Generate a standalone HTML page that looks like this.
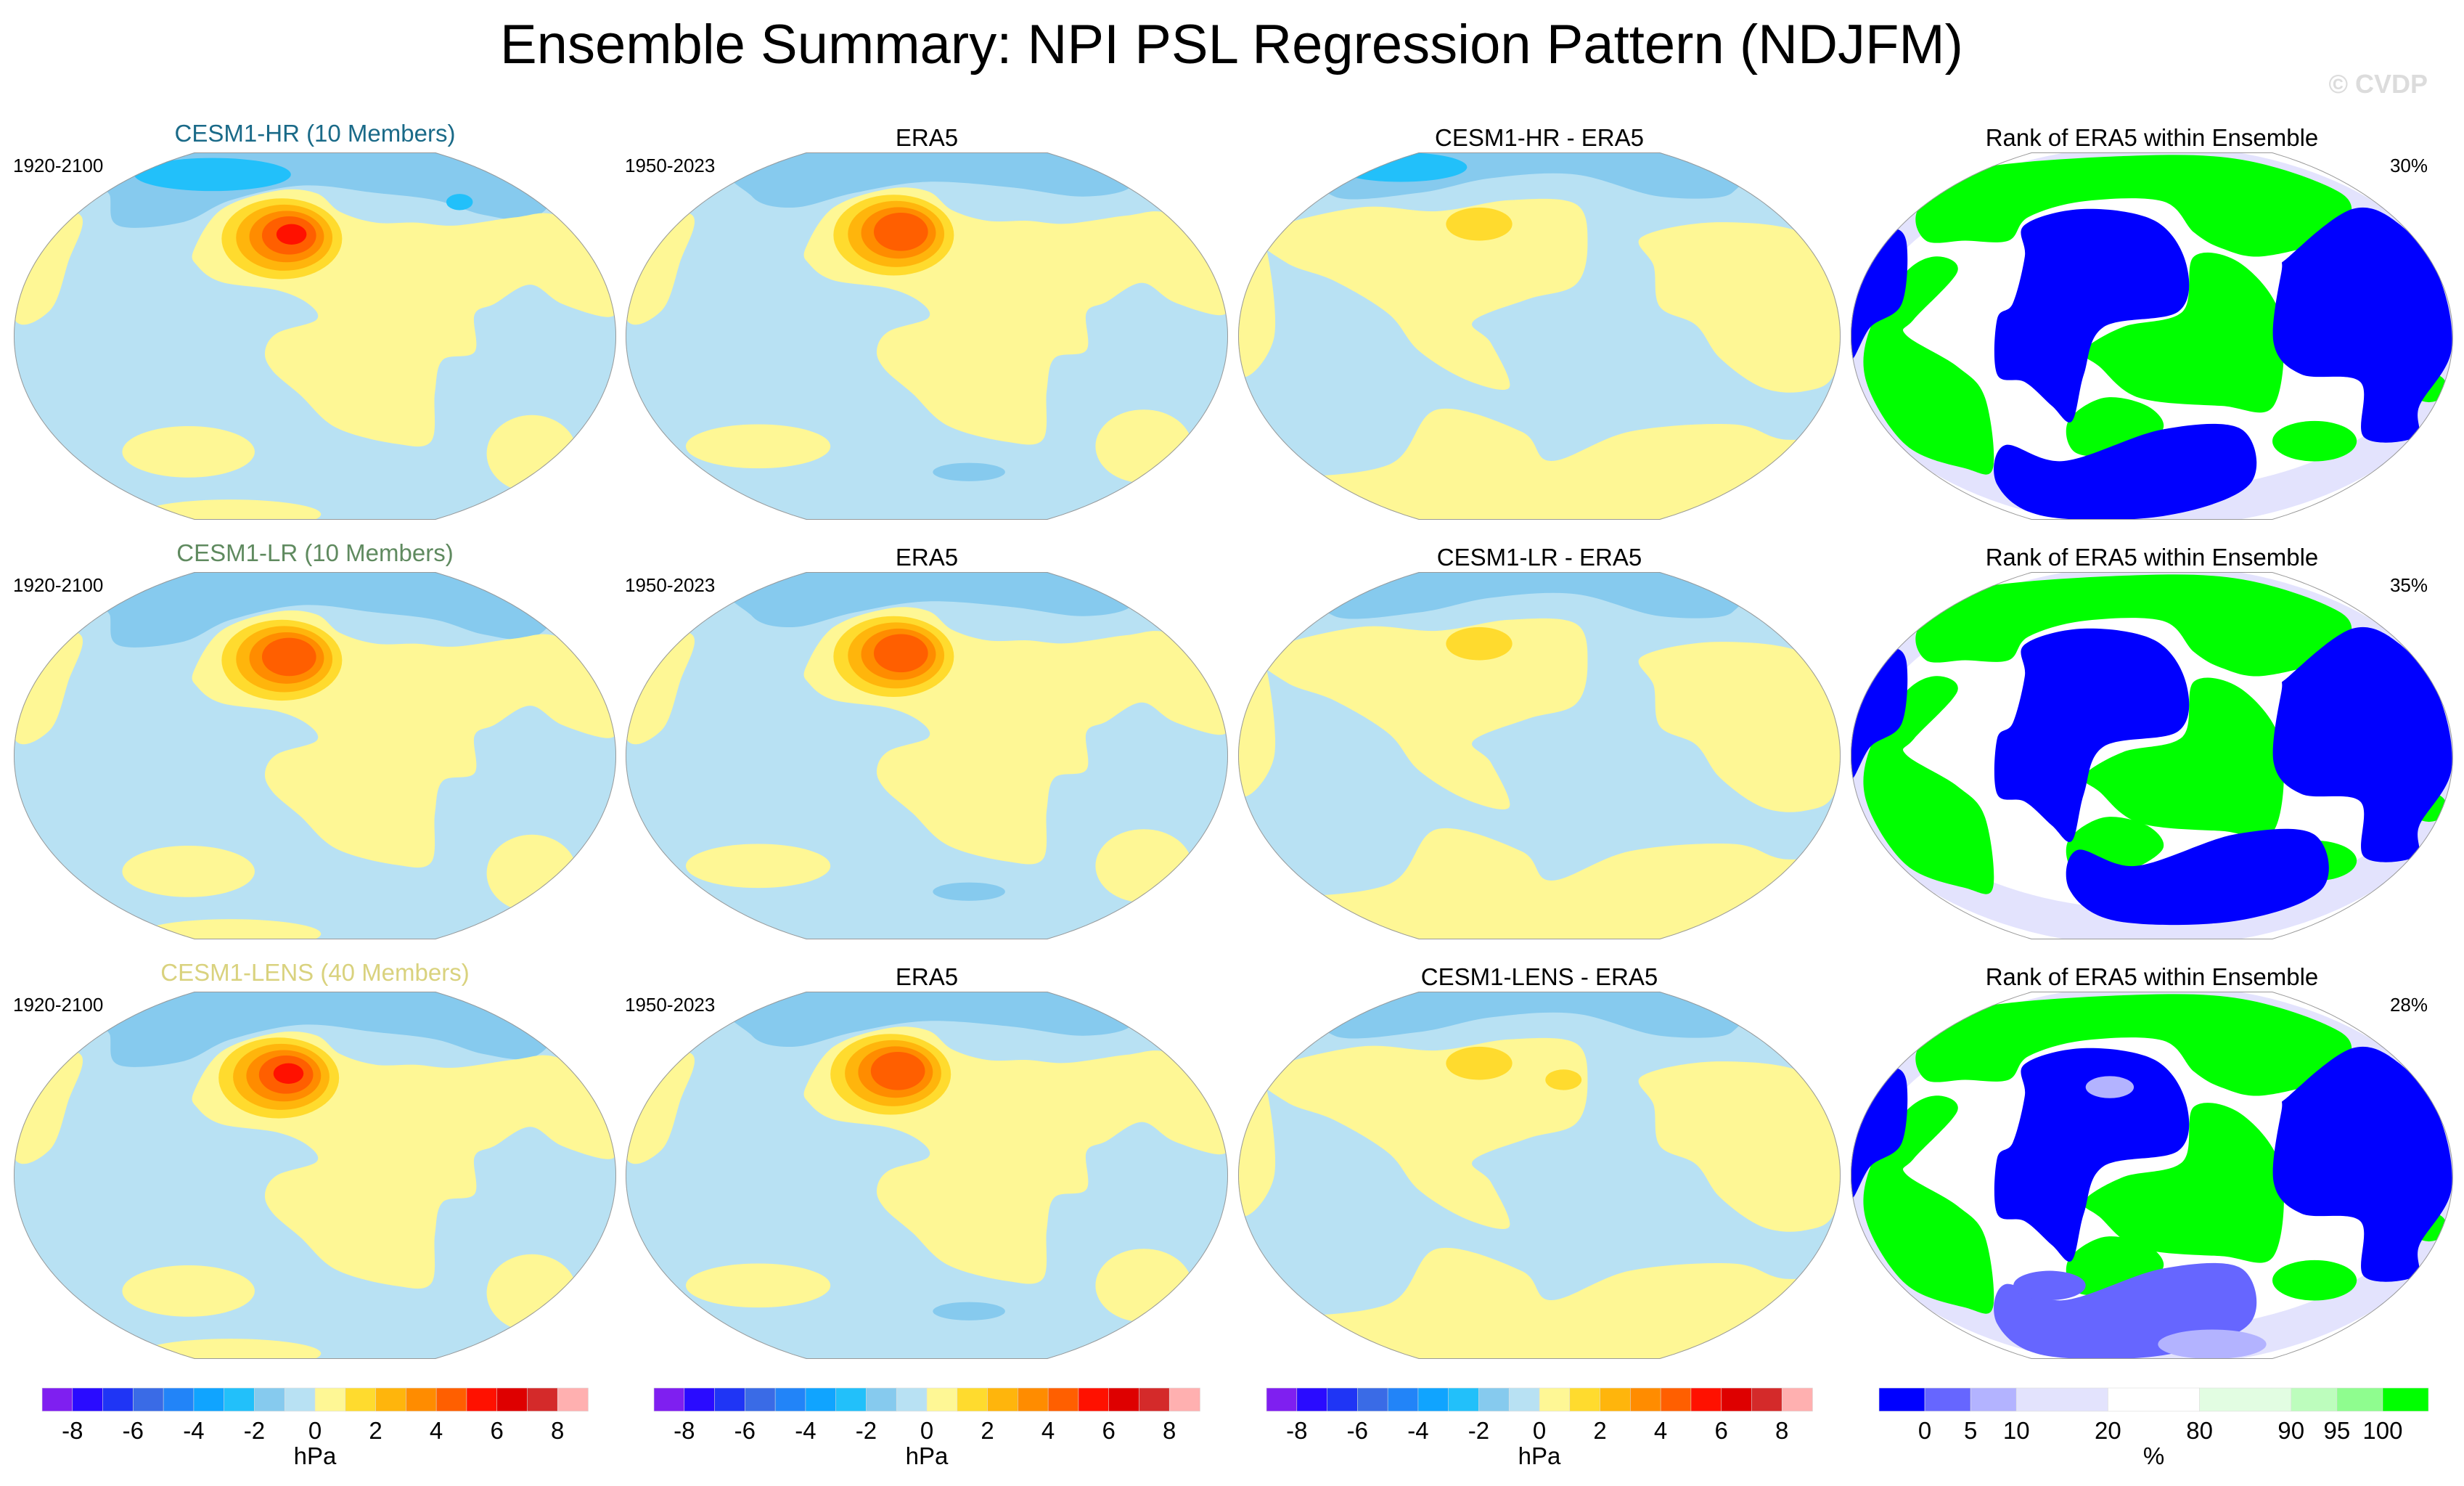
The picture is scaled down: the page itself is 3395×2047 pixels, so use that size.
<!DOCTYPE html>
<html><head><meta charset="utf-8">
<style>
html,body{margin:0;padding:0;background:#fff;}
svg{display:block;font-family:"Liberation Sans",sans-serif;}
</style></head>
<body>
<svg id="fig" width="3395" height="2047" viewBox="0 0 3395 2047" xmlns="http://www.w3.org/2000/svg">
<defs>
<clipPath id="mapclip" clipPathUnits="userSpaceOnUse"><path id="clipShape" d=""/></clipPath>
</defs>
<rect width="3395" height="2047" fill="#fff"/>
<text x="1697" y="87" font-size="76" text-anchor="middle" fill="#000">Ensemble Summary: NPI PSL Regression Pattern (NDJFM)</text>
<text x="3345" y="128" font-size="36" font-weight="bold" text-anchor="end" fill="#dcdcdc">© CVDP</text>
<g id="panels"></g>
</svg>
<script>
// ---- colorbar data ----
const levelColors = ['#7f1ff0','#2a0bff','#1f35f5','#3a6be6','#2284f8','#10a4ff','#22c0fa','#86caee','#b8e1f3','#fef795','#ffdb2e','#ffb50c','#ff8c00','#ff5f00','#ff1100','#de0000','#d42a2a','#ffb0b0'];
const levelLabels = ['-8','-6','-4','-2','0','2','4','6','8'];
const rankColors = ['#0000ff','#6666ff','#b3b3ff','#e3e3fd','#ffffff','#e2fde2','#bdfdbd','#8ffd8f','#00ff00'];
const rankWidths = [1,1,1,2,2,2,1,1,1];
const rankLabels = ['0','5','10','20','80','90','95','100'];
// ---- panel data ----
const rowTitles = ['CESM1-HR (10 Members)','CESM1-LR (10 Members)','CESM1-LENS (40 Members)'];
const rowTitleColors = ['#1a6a88','#5f8a5f','#d9d27e'];
const diffTitles = ['CESM1-HR - ERA5','CESM1-LR - ERA5','CESM1-LENS - ERA5'];
const rankPercents = ['30%','35%','28%'];
const highPeakModel = [5,4,5];
const highPeakObs = [4,4,4];
const highCX = [470,470,465];
const highCY = [235,240,235];

const polarBandModel = [[160,0],[850,0],[900,100],[860,180],[780,170],[700,130],[600,110],[480,90],[360,130],[280,190],[175,200],[160,120]];
const polarBandObs = [[200,0],[800,0],[840,90],[760,120],[640,95],[500,80],[380,110],[280,150],[210,120]];
const polarBandDiff = [[150,0],[780,0],[820,110],[700,120],[560,60],[420,70],[300,110],[160,120]];
const yellowMain = [[299,265],[345,155],[437,104],[502,111],[542,162],[601,191],[667,191],[732,199],[831,177],[900,170],[995,250],[1000,400],[988,448],[910,412],[857,360],[798,412],[765,441],[765,543],[712,565],[699,654],[693,786],[634,793],[535,749],[476,661],[430,595],[417,543],[437,492],[502,456],[489,412],[437,375],[345,353],[305,309]];
const yellowLeft = [[0,180],[110,170],[90,300],[60,430],[0,450]];
const diffYellowA = [[40,220],[200,150],[330,160],[450,130],[560,140],[580,250],[560,360],[480,400],[390,460],[420,520],[450,640],[380,620],[300,540],[250,440],[160,350],[80,300]];
const diffYellowB = [[670,230],[800,190],[950,230],[1000,400],[990,600],[940,650],[870,640],[800,560],[760,470],[700,420],[690,310]];
const diffYellowC = [[60,880],[250,850],[330,700],[470,760],[520,840],[650,760],[820,740],[900,780],[1000,800],[1000,1000],[0,1000],[0,820]];

const rankBlue1 = [[289,197],[387,154],[505,186],[557,304],[544,433],[420,475],[387,604],[367,732],[334,690],[289,625],[243,604],[243,454],[269,411],[289,283]];
const rankBlue2 = [[728,283],[833,154],[912,197],[977,340],[997,540],[944,690],[938,775],[852,775],[846,625],[748,604],[702,518],[715,325]];
const rankBlue3 = [[256,797],[354,840],[518,754],[649,754],[662,904],[518,990],[321,990],[243,904]];
const rankBlue4 = [[7,347],[59,218],[92,240],[85,411],[33,475],[0,560]];
const rankGreenTop = [[112,154],[190,50],[452,10],[650,20],[813,110],[826,197],[793,240],[682,283],[616,261],[570,218],[518,133],[387,133],[295,176],[262,240],[190,240],[125,240]];
const rankGreenMid = [[570,283],[649,304],[715,454],[702,690],[616,690],[479,668],[413,583],[387,540],[452,475],[551,433]];
const rankGreenLow = [[361,732],[420,668],[492,690],[518,754],[452,818],[374,818]];
const rankGreenLeft = [[33,475],[92,325],[144,283],[177,325],[105,454],[92,497],[177,583],[223,668],[236,860],[190,860],[92,797],[26,625]];

function smooth(pts){
  const n=pts.length; let d='M'+pts[0][0]+','+pts[0][1];
  for(let i=0;i<n;i++){
    const p0=pts[(i-1+n)%n],p1=pts[i],p2=pts[(i+1)%n],p3=pts[(i+2)%n];
    const c1x=p1[0]+(p2[0]-p0[0])/6,c1y=p1[1]+(p2[1]-p0[1])/6;
    const c2x=p2[0]-(p3[0]-p1[0])/6,c2y=p2[1]-(p3[1]-p1[1])/6;
    d+=' C'+c1x.toFixed(1)+','+c1y.toFixed(1)+' '+c2x.toFixed(1)+','+c2y.toFixed(1)+' '+p2[0]+','+p2[1];
  }
  return d+'Z';
}
function outline(){
  const N=80; const L=[],R=[];
  for(let i=0;i<=N;i++){
    const t=-1+2*i/N; const f=Math.sqrt(1-0.84*t*t);
    R.push([500+500*f,500+500*t]); L.push([500-500*f,500+500*t]);
  }
  let d='M'+R.map(p=>p[0].toFixed(1)+','+p[1].toFixed(1)).join(' L');
  d+=' L'+L.reverse().map(p=>p[0].toFixed(1)+','+p[1].toFixed(1)).join(' L')+'Z';
  return d;
}
const NS='http://www.w3.org/2000/svg';
const outlineD=outline();
document.getElementById('clipShape').setAttribute('d',outlineD);
const X0=[19,862,1706,2550], Y0=[210,788,1366], W=830, H=506;
const panels=document.getElementById('panels');

function mk(tag,attrs,parent){const e=document.createElementNS(NS,tag);for(const k in attrs)e.setAttribute(k,attrs[k]);parent.appendChild(e);return e;}
function poly(g,pts,col,name){const e=mk('path',{d:smooth(pts),fill:col},g);

return e;}
function ell(g,cx,cy,rx,ry,col,name){const e=mk('ellipse',{cx:cx,cy:cy,rx:rx,ry:ry,fill:col},g);

return e;}
function shift(pts,dx,dy){return pts.map(p=>[p[0]+dx,p[1]+dy]);}

function highs(g,peak,cx,cy){
  const rx=[100,80,62,45,25], ry=[110,90,70,52,28];
  for(let k=0;k<peak;k++){
    ell(g,cx+k*4-25,cy-k*3,rx[k],ry[k],levelColors[10+k],'high-pressure-level-'+(k+1));
  }
}

for(let r=0;r<3;r++){
  for(let c=0;c<4;c++){
    const x=X0[c], y=Y0[r];
    const pg=mk('g',{},panels);
    
    
    const g=mk('g',{transform:'translate('+x+','+y+') scale('+(W/1000)+','+(H/1000)+')','clip-path':'url(#mapclip)'},pg);
    if(c<3){
      mk('rect',{x:0,y:0,width:1000,height:1000,fill:levelColors[8]},g);
      if(c===0){
        poly(g,polarBandModel,levelColors[7],'polar-low-band');
        if(r===0){ell(g,330,60,130,45,levelColors[6],'deep-low');ell(g,740,135,22,22,levelColors[6],'deep-low-small');}
        poly(g,shift(yellowMain,0,r*4),levelColors[9],'positive-anomaly-region');
        poly(g,yellowLeft,levelColors[9],'positive-anomaly-west');
        ell(g,290,815,110,70,levelColors[9],'positive-anomaly-south');
        ell(g,860,820,75,105,levelColors[9],'positive-anomaly-southeast');
        ell(g,360,985,150,40,levelColors[9],'positive-anomaly-antarctic');
        highs(g,highPeakModel[r],highCX[r],highCY[r]);
      } else if(c===1){
        poly(g,polarBandObs,levelColors[7],'polar-low-band');
        poly(g,shift(yellowMain,0,-5),levelColors[9],'positive-anomaly-region');
        poly(g,yellowLeft,levelColors[9],'positive-anomaly-west');
        ell(g,220,800,120,60,levelColors[9],'positive-anomaly-south');
        ell(g,860,800,80,100,levelColors[9],'positive-anomaly-southeast');
        ell(g,570,870,60,25,levelColors[7],'negative-anomaly-south');
        highs(g,highPeakObs[r],highCX[r],highCY[r]-10);
      } else {
        poly(g,polarBandDiff,levelColors[7],'polar-low-band');
        if(r===0) ell(g,270,40,110,40,levelColors[6],'deep-low');
        poly(g,diffYellowA,levelColors[9],'positive-anomaly-asia');
        poly(g,diffYellowB,levelColors[9],'positive-anomaly-atlantic');
        poly(g,diffYellowC,levelColors[9],'positive-anomaly-south');
        poly(g,[[0,250],[40,220],[60,500],[0,600]],levelColors[9],'positive-anomaly-west');
        ell(g,400,195,55,45,levelColors[10],'positive-anomaly-gold');
        if(r===2) ell(g,540,240,30,28,levelColors[10],'positive-anomaly-gold-2');
      }
      mk('path',{d:outlineD,fill:'none',stroke:'#999','stroke-width':2,'vector-effect':'non-scaling-stroke'},g);
    } else {
      mk('rect',{x:0,y:0,width:1000,height:1000,fill:rankColors[4]},g);
      ell(g,500,500,520,520,rankColors[3],'rank-10-20-background');
      ell(g,500,480,470,440,rankColors[4],'rank-20-80-background');
      poly(g,rankGreenTop,rankColors[8],'rank-high-arctic');
      poly(g,shift(rankGreenMid,0,r*15),rankColors[8],'rank-high-pacific');
      poly(g,rankGreenLow,rankColors[8],'rank-high-south-pacific');
      poly(g,rankGreenLeft,rankColors[8],'rank-high-indian');
      ell(g,770,786,70,55,rankColors[8],'rank-high-south-atlantic');
      ell(g,960,640,30,40,rankColors[8],'rank-high-east');
      poly(g,rankBlue1,rankColors[0],'rank-low-north-pacific');
      poly(g,rankBlue2,rankColors[0],'rank-low-atlantic');
      poly(g,shift(rankBlue3,r===1?120:0,r===1?-40:0),r===2?rankColors[1]:rankColors[0],'rank-low-southern');
      poly(g,rankBlue4,rankColors[0],'rank-low-west');
      if(r===2){ell(g,330,800,60,40,rankColors[1],'rank-low-patch');ell(g,430,260,40,30,rankColors[2],'rank-mid-patch');ell(g,600,960,90,40,rankColors[2],'rank-mid-patch-2');}
      mk('path',{d:outlineD,fill:'none',stroke:'#999','stroke-width':2,'vector-effect':'non-scaling-stroke'},g);
    }
    // titles
    const cx=x+W/2;
    let title, col='#000';
    if(c===0){title=rowTitles[r];col=rowTitleColors[r];}
    else if(c===1) title='ERA5';
    else if(c===2) title=diffTitles[r];
    else title='Rank of ERA5 within Ensemble';
    const ty=(c===0?y-15:y-9);
    const t=mk('text',{x:cx,y:ty,'font-size':33,'text-anchor':'middle',fill:col},panels);
    t.textContent=title;
    
    
    if(c===0||c===1){
      const yl=mk('text',{x:x-1,y:y+27,'font-size':26,fill:'#000'},panels);
      yl.textContent=c===0?'1920-2100':'1950-2023';
      
      
    }
    if(c===3){
      const pl=mk('text',{x:3345,y:y+27,'font-size':26,'text-anchor':'end',fill:'#000'},panels);
      pl.textContent=rankPercents[r];
      
      
    }
  }
}
// colorbars
const CB_Y=1912, CB_H=32;
for(let c=0;c<4;c++){
  const cb=mk('g',{},panels);
  
  
  const x0=X0[c]+39, x1=X0[c]+(c<3?791:796), w=x1-x0;
  if(c<3){
    const bw=w/levelColors.length;
    levelColors.forEach((col,i)=>{
      const b=mk('rect',{x:x0+i*bw,y:CB_Y,width:bw+0.5,height:CB_H,fill:col,stroke:'#ddd','stroke-width':0.6},cb);
      
      
    });
    levelLabels.forEach((lab,i)=>{
      const t=mk('text',{x:x0+(1+2*i)*bw,y:1982,'font-size':33,'text-anchor':'middle'},cb);
      t.textContent=lab;
      
      
    });
    const u=mk('text',{x:x0+w/2,y:2017,'font-size':33,'text-anchor':'middle'},cb);
    u.textContent='hPa';
    
    
  } else {
    const tot=rankWidths.reduce((a,b)=>a+b,0); let acc=0; const bounds=[];
    rankColors.forEach((col,i)=>{
      const bx=x0+acc/tot*w, bw=rankWidths[i]/tot*w;
      const b=mk('rect',{x:bx,y:CB_Y,width:bw,height:CB_H,fill:col,stroke:'#ddd','stroke-width':0.6},cb);
      
      
      acc+=rankWidths[i]; bounds.push(x0+acc/tot*w);
    });
    rankLabels.forEach((lab,i)=>{
      const t=mk('text',{x:bounds[i],y:1982,'font-size':33,'text-anchor':'middle'},cb);
      t.textContent=lab;
      
      
    });
    const u=mk('text',{x:x0+w/2,y:2017,'font-size':33,'text-anchor':'middle'},cb);
    u.textContent='%';
    
    
  }
}
</script>
</body></html>
